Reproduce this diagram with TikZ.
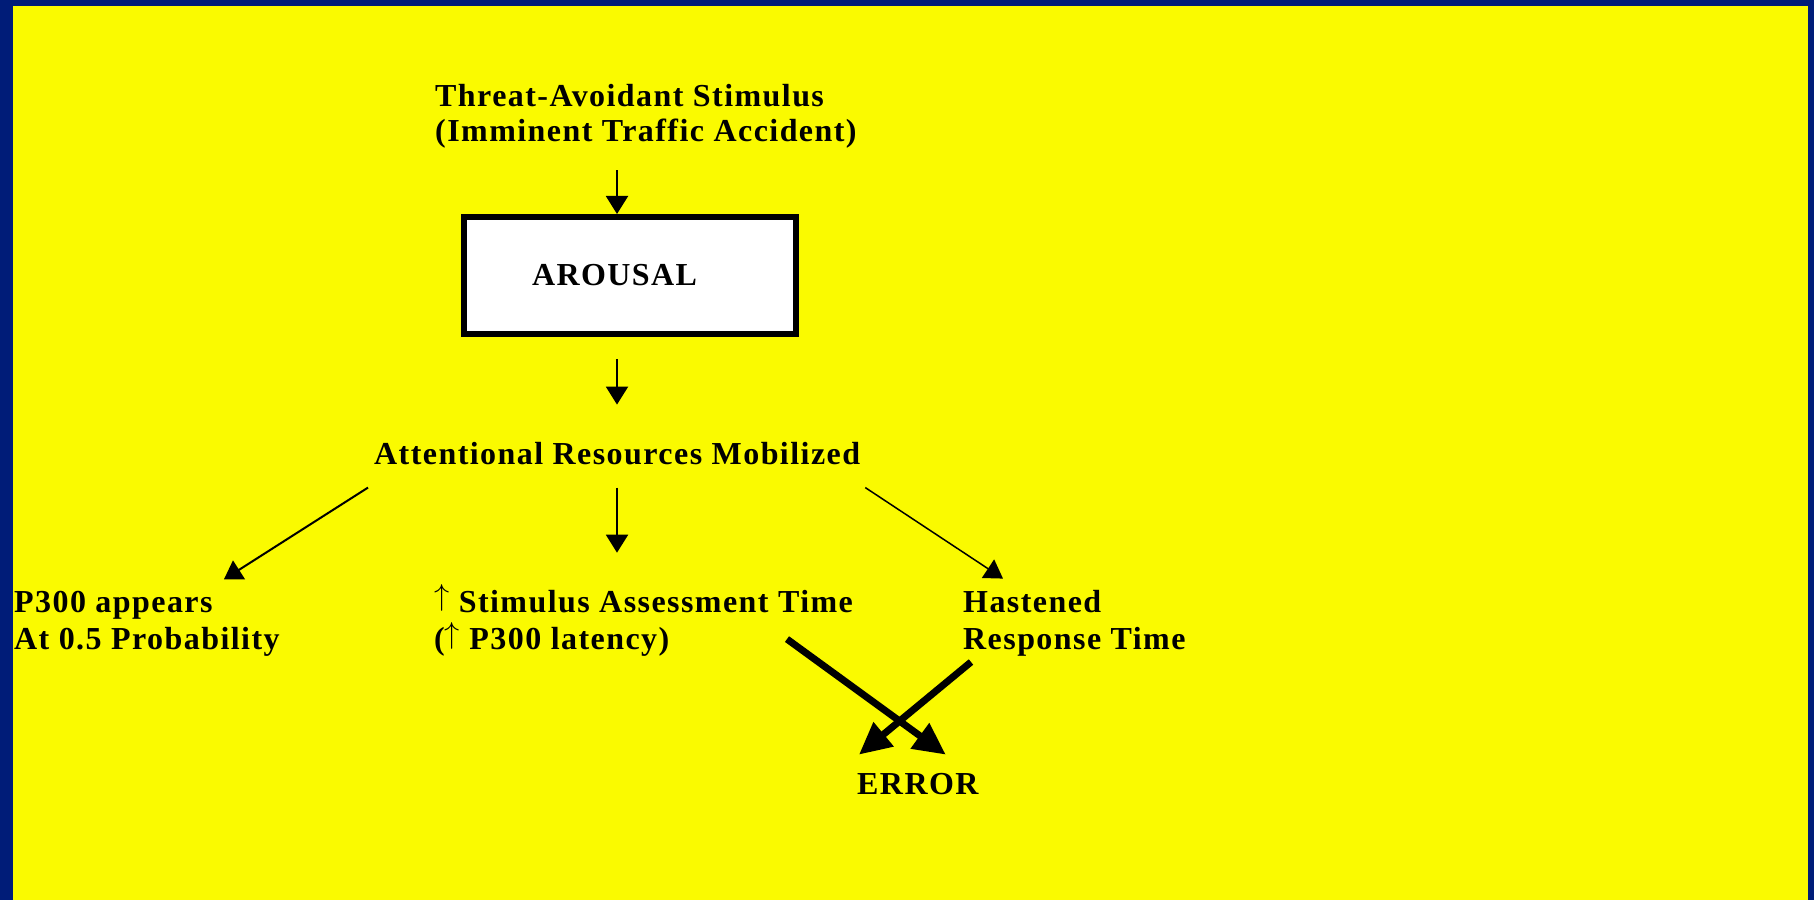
\documentclass[tikz,border=0pt]{standalone}
\usepackage{graphicx}
\usepackage{fontspec}
\setmainfont{Liberation Serif}[LetterSpace=4.5]
\usetikzlibrary{arrows.meta,positioning,calc}
\definecolor{slideblue}{RGB}{0,28,120}
\definecolor{slideyellow}{RGB}{250,250,0}
\newcommand{\uparr}{\raisebox{6pt}{\resizebox*{!}{27pt}{$\uparrow$}}}
\tikzset{
  slide text/.style={
    % The font:
    font=\bfseries\fontsize{32}{37}\selectfont,
    % The rest
    inner sep=0pt,
    align=left,
    anchor=base west
  },
  arousal box/.style={
    % The shape:
    rectangle,
    % The size:
    minimum width=332pt,
    minimum height=117pt,
    text width=196pt,
    inner xsep=68pt,
    % The border:
    line width=6pt,
    draw=black,
    % The filling:
    fill=white,
    % Font
    font=\bfseries\fontsize{32}{37}\selectfont,
    align=left
  }
}
\tikzstyle{line} = [draw, line width=2pt, -{Triangle[width=22pt,length=18pt]}]
\tikzstyle{thick line} = [draw, line width=7pt, -{Triangle[width=30pt,length=32pt]}]
\begin{document}
\begin{tikzpicture}[x=1pt,y=1pt]
% Background
\fill [slideblue] (0,0) rectangle (1814,900);
\fill [slideyellow] (13,0) rectangle (1808,894);
\useasboundingbox (0,0) rectangle (1814,900);
% Nodes (base of a two-line node is its last line)
\node [slide text, font=\bfseries\fontsize{32}{35}\selectfont] (stim) at (435,758) {Threat-Avoidant Stimulus\\(Imminent Traffic Accident)};
\node [arousal box] (arousal) at (630,624.5) {AROUSAL};
\node [slide text] (attn) at (374,435) {Attentional Resources Mobilized};
\node [slide text] (p300) at (14,251) {P300 appears\\At 0.5 Probability};
\node [slide text] (assess) at (434,251) {\uparr{} Stimulus Assessment Time\\(\uparr{} P300 latency)};
\node [slide text] (hasten) at (963,251) {Hastened\\Response Time};
\node [slide text] (error) at (857,106) {ERROR};
\coordinate (axis) at (617,0);
% Draw edges
\path [line, shorten <=21pt] (stim.south -| axis) -- (arousal.north -| axis);
\path [line, shorten <=22pt, shorten >=38pt] (arousal.south -| axis) -- (attn.north -| axis);
\path [line] ([shift={(-6,-22)}]attn.south west) -- ([shift={(-56,11)}]p300.north east);
\path [line, shorten <=22pt, shorten >=32pt] (attn.south -| axis) -- (assess.north -| axis);
\path [line, line width=1.5pt] ([shift={(5,-22)}]attn.south east) -- ([shift={(40,11)}]hasten.north west);
\path [thick line] ([shift={(353,17)}]assess.south west) -- ([shift={(-33,18)}]error.north east);
\path [thick line] ([shift={(8,-6)}]hasten.south west) -- ([shift={(2,18)}]error.north west);
\end{tikzpicture}
\end{document}
